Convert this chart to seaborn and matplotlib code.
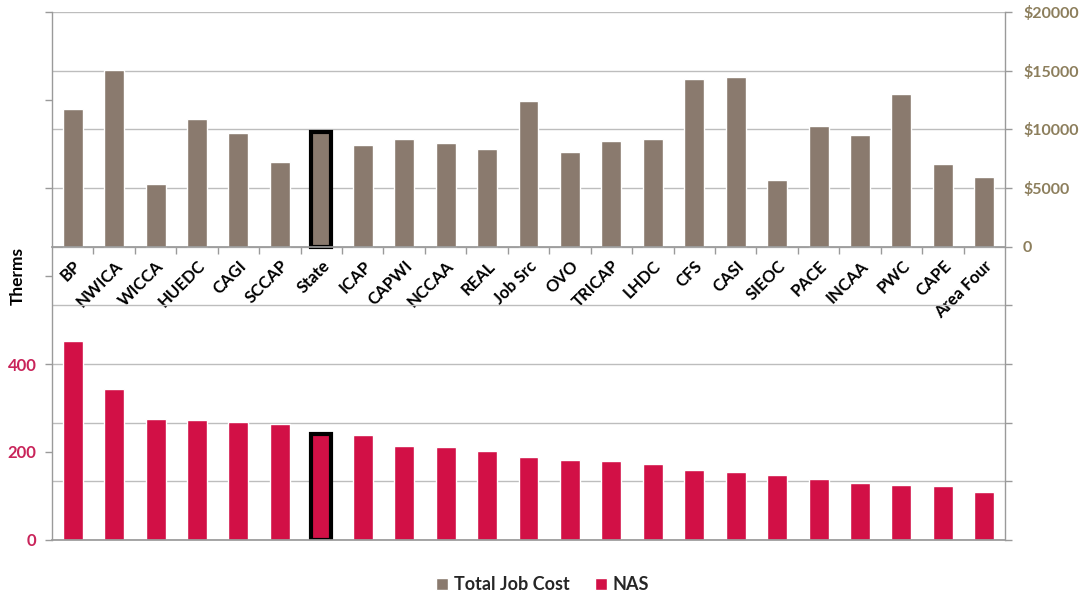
import matplotlib
matplotlib.use("Agg")
import matplotlib.pyplot as plt
import pandas as pd
import seaborn as sns
from matplotlib.patches import Patch
from matplotlib.ticker import FixedLocator, FuncFormatter

# Organisations along the category axis
categories = ["BP", "NWICA", "WICCA", "HUEDC", "CAGI", "SCCAP", "State", "ICAP",
              "CAPWI", "NCCAA", "REAL", "Job Src", "OVO", "TRICAP", "LHDC", "CFS",
              "CASI", "SIEOC", "PACE", "INCAA", "PWC", "CAPE", "Area Four"]

# Total job cost in dollars (right axis, upper band)
total_job_cost = [11700, 15100, 5350, 10900, 9650, 7200, 9750, 8700, 9200, 8850,
                  8300, 12450, 8100, 9000, 9200, 14300, 14500, 5700, 10300, 9550,
                  13050, 7050, 5900]

# Normalised annual savings in therms (left axis, lower band)
nas_therms = [453, 343, 276, 272, 268, 264, 242, 239, 213, 211, 202, 189, 182,
              180, 172, 158, 155, 147, 139, 130, 125, 122, 108]

highlight = "State"

# Axis ticks; only the non-negative cost ticks and the low therm ticks get labels
cost_ticks = list(range(-25000, 20001, 5000))
therm_ticks = list(range(0, 1201, 200))
therm_labelled = [0, 200, 400]

BROWN = "#8A7A6E"
CRIMSON = "#D21046"
COST_TEXT = "#8C7E5C"
NAS_TEXT = "#C9245A"
GRID = "#BDBDBD"
SPINE = "#9A9A9A"

sns.set_theme(style="white")
plt.rcParams["font.family"] = ["Lato", "DejaVu Sans"]
plt.rcParams["font.weight"] = "bold"

df = pd.DataFrame({"Org": categories,
                   "Total Job Cost": total_job_cost,
                   "NAS": nas_therms})

fig = plt.figure(figsize=(10.85, 5.98), dpi=100)
ax = fig.add_axes([0.0479, 0.097, 0.8784, 0.8829])
ax_n = ax.twinx()

sns.barplot(data=df, x="Org", y="Total Job Cost", color=BROWN, saturation=1,
            width=0.48, ax=ax, zorder=2)
sns.barplot(data=df, x="Org", y="NAS", color=CRIMSON, saturation=1,
            width=0.48, ax=ax_n, zorder=2)

# Outline the State bar in both bands
idx = categories.index(highlight)
for a in (ax, ax_n):
    p = a.patches[idx]
    p.set_edgecolor("black")
    p.set_linewidth(3)

ax.set_xlim(-0.5, len(categories) - 0.5)
ax.set_ylim(cost_ticks[0], cost_ticks[-1])
ax_n.set_ylim(therm_ticks[0], therm_ticks[-1])

# Spines first: moving a spine rebuilds the ticks of its axis
ax.spines["bottom"].set_position(("data", 0))
ax.spines["bottom"].set_color(SPINE)
ax.spines["top"].set_visible(False)
for s in ("left", "right"):
    ax.spines[s].set_color(SPINE)
    ax.spines[s].set_linewidth(1)
for s in ("left", "right", "top"):
    ax_n.spines[s].set_visible(False)
ax_n.spines["bottom"].set_color(SPINE)
ax_n.xaxis.set_visible(False)

# Cost axis on the right, therms axis on the left
ax.yaxis.tick_right()
ax.yaxis.set_label_position("right")
ax_n.yaxis.tick_left()
ax_n.yaxis.set_label_position("left")

ax.yaxis.set_major_locator(FixedLocator(cost_ticks))
ax.yaxis.set_major_formatter(FuncFormatter(
    lambda v, _: "" if v < 0 else ("0" if v == 0 else f"${int(v)}")))
ax_n.yaxis.set_major_locator(FixedLocator(therm_ticks))
ax_n.yaxis.set_major_formatter(FuncFormatter(
    lambda v, _: f"{int(v)}" if int(v) in therm_labelled else ""))

ax.tick_params(axis="y", which="major", right=True, left=False, length=5,
               width=1, color=SPINE, direction="out", pad=8,
               labelsize=11.5, labelcolor=COST_TEXT)
ax_n.tick_params(axis="y", which="major", left=True, right=False, length=5,
                 width=1, color=SPINE, direction="out", pad=6,
                 labelsize=12, labelcolor=NAS_TEXT)

# Category axis sits on the zero line of the cost scale
ax.set_xticks(range(len(categories)))
ax.set_xticks([i + 0.5 for i in range(len(categories) - 1)], minor=True)
ax.set_xticklabels(categories)
ax.tick_params(axis="x", which="major", length=0, pad=8, bottom=True,
               labelrotation=45, labelsize=12, labelcolor="black")
ax.tick_params(axis="x", which="minor", length=5, width=1, color=SPINE,
               direction="out", bottom=True)

ax.yaxis.grid(True, color=GRID, linewidth=1)
ax.xaxis.grid(False)
ax_n.grid(False)
ax.set_axisbelow(True)

ax.set_xlabel("")
ax.set_ylabel("")
ax_n.set_ylabel("Therms", fontsize=12.5, fontweight="bold", color="black")
ax_n.yaxis.set_label_coords(-0.028, 0.5)

handles = [Patch(facecolor=BROWN, label="Total Job Cost"),
           Patch(facecolor=CRIMSON, label="NAS")]
fig.legend(handles=handles, loc="center", bbox_to_anchor=(0.5, 0.022), ncol=2,
           frameon=False, handlelength=0.7, handleheight=0.7,
           handletextpad=0.3, columnspacing=1.4,
           prop={"size": 13, "weight": "bold"})

for lbl in ax.get_xticklabels():
    lbl.set_ha("right")
    lbl.set_va("top")
    lbl.set_rotation_mode("anchor")
    lbl.set_fontweight("bold")
for lbl in ax.get_yticklabels() + ax_n.get_yticklabels():
    lbl.set_fontweight("bold")

fig.savefig("out.png", dpi=100)
